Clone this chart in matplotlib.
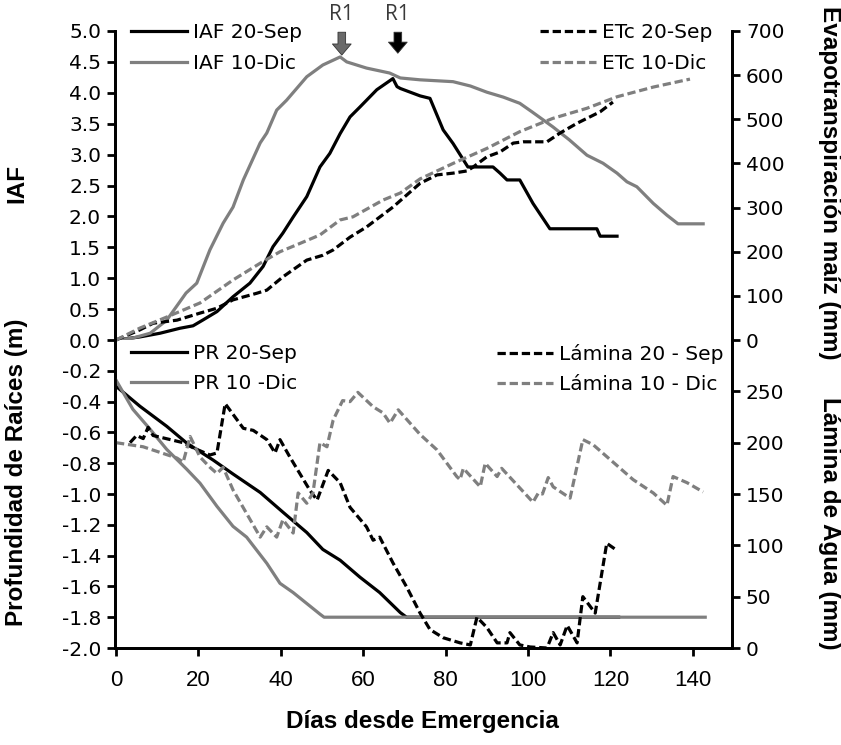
import numpy as np
import matplotlib
matplotlib.use('Agg')
import matplotlib.pyplot as plt

plt.rcParams['font.family'] = ['Liberation Sans', 'DejaVu Sans']

GRAY = '#7f7f7f'

# IAF (left axis, top panel)
iaf_sep_d = [0, 5.8, 10.7, 15.5, 18.7, 21, 24.5, 28.4, 32.5, 35.7, 38.1, 40.5, 43, 46.3, 49.5, 51.9,
             54.4, 56.8, 59.2, 63.3, 67.2, 68.2, 69, 73.8, 76.2, 79.4, 81.8, 85.4, 91.5, 93.2, 94.9,
             98, 101.2, 105.3, 116.7, 117.5, 121.6]
iaf_sep = [0, 0.05, 0.11, 0.19, 0.23, 0.32, 0.46, 0.70, 0.92, 1.19, 1.51, 1.73, 1.99, 2.32, 2.80, 3.02,
           3.34, 3.61, 3.77, 4.05, 4.23, 4.10, 4.07, 3.95, 3.91, 3.40, 3.18, 2.80, 2.80, 2.70, 2.59,
           2.59, 2.21, 1.80, 1.80, 1.68, 1.68]
iaf_dic_d = [0, 4, 8.3, 12.3, 17, 19.6, 22.8, 26, 28.4, 30.9, 35, 36.6, 39, 41.4, 46.3, 50.2, 54.4, 56,
             60.8, 66.4, 69, 73.8, 81.8, 86, 90, 94, 98, 101, 106, 110, 114.3, 118.2, 121.6, 124,
             126.4, 130.4, 133.7, 136.4, 142.5]
iaf_dic = [0, 0.03, 0.11, 0.32, 0.76, 0.92, 1.46, 1.89, 2.15, 2.59, 3.19, 3.35, 3.72, 3.88, 4.26, 4.45,
           4.58, 4.50, 4.40, 4.32, 4.24, 4.21, 4.18, 4.11, 4.01, 3.93, 3.83, 3.69, 3.45, 3.24, 2.99,
           2.86, 2.70, 2.56, 2.48, 2.21, 2.02, 1.88, 1.88]

# ETc (right axis, top panel)
etc_sep_d = [0, 5.8, 9, 14.8, 20.4, 24.5, 28.4, 34.2, 36.6, 40.5, 46.3, 50.2, 52.7, 56.8, 60.8, 67.2,
             73.8, 77.9, 81.8, 85.2, 86.7, 90, 93.2, 96.4, 98.8, 104.6, 107.8, 111.9, 117.5, 120.6]
etc_sep = [0, 23, 38, 45, 61, 72, 91, 106, 113, 143, 181, 192, 204, 233, 256, 301,
           355, 374, 378, 383, 392, 415, 426, 446, 449, 449, 469, 491, 517, 539]
etc_dic_d = [0, 5.8, 12.3, 20.4, 28.4, 35, 39.8, 44.7, 49.5, 54.4, 57.5, 64.8, 69, 73.8, 81.8, 90,
             98, 106, 114.3, 121.6, 130.4, 139.3]
etc_dic = [0, 27, 52, 84, 136, 174, 200, 219, 238, 272, 279, 317, 333, 365, 400, 434,
           472, 502, 525, 551, 573, 591]

# Profundidad de raices (left axis, bottom panel)
pr_sep_d = [0, 5.8, 12.3, 17.2, 23.6, 28.4, 35, 40.6, 46.3, 50.2, 54.4, 59.2, 64, 69, 70.5, 122]
pr_sep = [-0.30, -0.43, -0.56, -0.67, -0.78, -0.87, -0.99, -1.12, -1.25, -1.36, -1.43, -1.54, -1.64,
          -1.77, -1.80, -1.80]
pr_dic_d = [0, 4.1, 8.3, 12.3, 17.2, 20.4, 24.5, 28.4, 31.7, 36.6, 39.8, 43, 49.5, 50.5, 143]
pr_dic = [-0.26, -0.45, -0.58, -0.71, -0.84, -0.93, -1.08, -1.21, -1.28, -1.45, -1.58, -1.64, -1.78,
          -1.80, -1.80]

# Lamina de agua (right axis, bottom panel)
lam_sep_d = [3.4, 5, 6.6, 7.8, 9, 16.3, 18.7, 22.8, 24.5, 26.5, 30.9, 33.3, 36.6, 38.6, 39.8, 42.2,
             47, 48.8, 51.5, 54.4, 56.8, 60.8, 62.4, 64, 67.2, 70.6, 73.8, 76.2, 79.4, 83.5, 86,
             87.6, 90, 92.5, 94.9, 95.6, 98, 100.5, 104.6, 106.1, 107.8, 109.5, 111.9, 113.3, 116.3,
             119.1, 121.6]
lam_sep = [200, 207, 204, 215, 207, 200, 195, 188, 190, 238, 214, 212, 203, 190, 203, 186,
           154, 144, 173, 161, 137, 118, 105, 108, 83, 59, 34, 18, 10, 5, 3,
           30, 20, 5, 5, 15, 3, 1, 0, 15, 3, 22, 5, 50, 34, 102, 95]
lam_dic_d = [0, 6.6, 14.8, 16.3, 18, 20.4, 22.8, 24.5, 26, 28.4, 31.7, 35, 36.6, 39, 40.5, 43, 44.2,
             46.3, 47.8, 49.5, 51.2, 52.7, 55, 56.8, 58.7, 62.4, 64.8, 66.5, 68.5, 73.8, 77.9, 82.7,
             83.5, 84.3, 88.4, 89.6, 92.5, 93.6, 101.2, 102.5, 103.5, 104.9, 106.1, 110.2, 113.3,
             115.8, 125.5, 130.4, 133.7, 135.2, 138.6, 142.5]
lam_dic = [200, 196, 185, 181, 206, 186, 176, 170, 176, 154, 131, 108, 118, 108, 125, 112, 151,
           141, 151, 200, 196, 222, 241, 240, 249, 235, 229, 219, 232, 208, 193, 167,
           164, 175, 157, 180, 167, 175, 142, 151, 150, 166, 157, 146, 203,
           198, 164, 151, 139, 167, 161, 152]

r1_days = [54.8, 68.4]
r1_colors = ['#6a6a6a', 'black']
r1_tips = [4.61, 4.64]

LW = 2.3
DASH = (2.6, 1.2)
TICKFONT = ['DejaVu Sans']
TFS = 14.5
LABFS = 17.5

fig = plt.figure(figsize=(8.41, 7.45), dpi=100)
ax1 = fig.add_axes([0.1367, 0.5436, 0.7337, 0.4148])
ax2 = fig.add_axes([0.1367, 0.1302, 0.7337, 0.4134])
ax1r = ax1.twinx()
ax2r = ax2.twinx()

xlim = (-0.25, 149.5)

# ---- top panel
ax1.plot(iaf_sep_d, iaf_sep, color='black', lw=LW, label='IAF 20-Sep', clip_on=False, zorder=3)
ax1.plot(iaf_dic_d, iaf_dic, color=GRAY, lw=LW, label='IAF 10-Dic', clip_on=False, zorder=3)
ax1r.plot(etc_sep_d, etc_sep, color='black', lw=LW, dashes=DASH, label='ETc 20-Sep', clip_on=False)
ax1r.plot(etc_dic_d, etc_dic, color=GRAY, lw=LW, dashes=DASH, label='ETc 10-Dic', clip_on=False)

ax1.set_xlim(*xlim)
ax1.set_ylim(0, 5)
ax1.set_yticks(np.arange(0, 5.01, 0.5))
ax1.set_yticklabels(['%.1f' % t for t in np.arange(0, 5.01, 0.5)])
ax1r.set_ylim(0, 700)
ax1r.set_yticks(range(0, 701, 100))

# ---- bottom panel
ax2.plot(pr_sep_d, pr_sep, color='black', lw=LW, label='PR 20-Sep', zorder=3)
ax2.plot(pr_dic_d, pr_dic, color=GRAY, lw=LW, label='PR 10 -Dic', zorder=3)
ax2r.plot(lam_sep_d, lam_sep, color='black', lw=LW, dashes=DASH, label='Lámina 20 - Sep', clip_on=False)
ax2r.plot(lam_dic_d, lam_dic, color=GRAY, lw=LW, dashes=DASH, label='Lámina 10 - Dic')

ax2.set_xlim(*xlim)
ax2.set_ylim(-2.0, 0)
ax2.set_yticks(np.arange(-2.0, -0.19, 0.2))
ax2.set_yticklabels(['%.1f' % t for t in np.arange(-2.0, -0.19, 0.2)])
ax2r.set_ylim(0, 300)
ax2r.set_yticks(range(0, 251, 50))
ax2.set_xticks(range(0, 141, 20))

for a in (ax1, ax1r):
    a.set_xticks([])
    a.spines['bottom'].set_visible(False)
    a.spines['top'].set_visible(False)
for a in (ax2, ax2r):
    a.spines['top'].set_visible(False)
for a in (ax1, ax1r, ax2, ax2r):
    for s in a.spines.values():
        s.set_linewidth(2)
    a.tick_params(axis='y', direction='out', length=6, width=2, labelsize=TFS, pad=4)
    for t in a.get_yticklabels():
        t.set_family(TICKFONT)
ax2.tick_params(axis='x', direction='out', length=6, width=2, labelsize=16, pad=10)

# R1 markers
for d, c, tip in zip(r1_days, r1_colors, r1_tips):
    ax1.annotate('', xy=(d, tip), xytext=(d, 4.98), annotation_clip=False,
                 arrowprops=dict(arrowstyle='simple,head_length=0.8,head_width=1.35,tail_width=0.55',
                                 fc=c, ec='#333333', lw=0.6, mutation_scale=10, shrinkA=0, shrinkB=0))
    ax1.text(d, 5.26, 'R1', ha='center', va='center', fontsize=15, color='#3a3a3a',
             family=['Open Sans', 'DejaVu Sans'], clip_on=False)

leg_kw = dict(frameon=False, prop={'family': ['DejaVu Sans'], 'size': 14.5}, handlelength=2.8,
              handletextpad=0.3, labelspacing=0.56, borderpad=0.1, borderaxespad=0)
ax1r.add_artist(ax1r.legend(*ax1.get_legend_handles_labels(), loc='upper left',
                            bbox_to_anchor=(0.022, 1.031), **leg_kw))
ax1r.legend(loc='upper right', bbox_to_anchor=(0.972, 1.031), **leg_kw)
ax2r.add_artist(ax2r.legend(*ax2.get_legend_handles_labels(), loc='upper left',
                            bbox_to_anchor=(0.022, 0.995), **leg_kw))
ax2r.legend(loc='upper right', bbox_to_anchor=(0.99, 0.995), **leg_kw)

# axis labels
fig.text(0.02, 0.754, 'IAF', rotation=90, ha='center', va='center', fontsize=LABFS, fontweight='bold')
fig.text(0.02, 0.366, 'Profundidad de Raíces (m)', rotation=90, ha='center', va='center',
         fontsize=LABFS, fontweight='bold')
fig.text(0.986, 0.755, 'Evapotranspiración maíz (mm)', rotation=-90, ha='center', va='center',
         fontsize=LABFS, fontweight='bold')
fig.text(0.986, 0.297, 'Lámina de Agua (mm)', rotation=-90, ha='center', va='center',
         fontsize=LABFS, fontweight='bold')
fig.text(0.502, 0.031, 'Días desde Emergencia', ha='center', va='center', fontsize=LABFS,
         fontweight='bold')

fig.savefig('out.png', dpi=100)
